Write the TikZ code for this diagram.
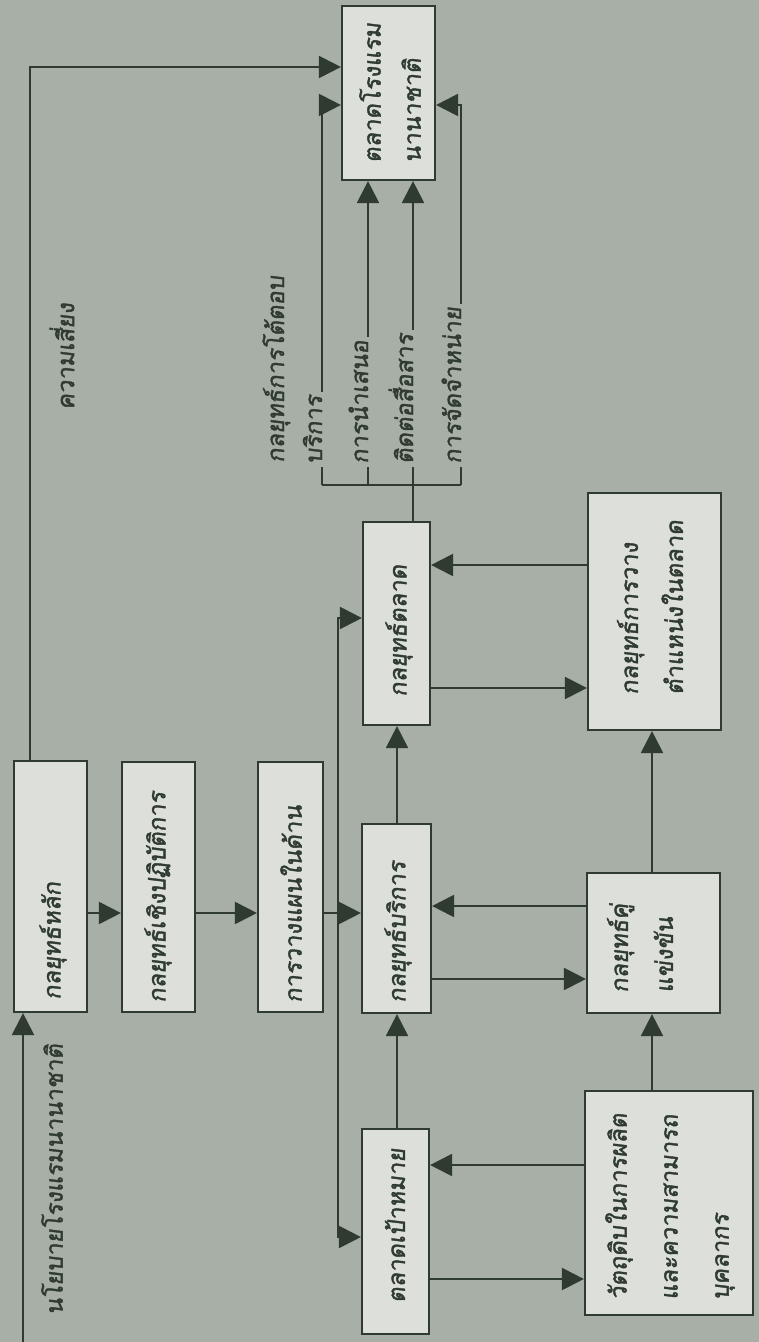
\documentclass[tikz,border=0pt]{standalone}
\usepackage{fontspec}
\newfontfamily\thaifont[Script=Thai, AutoFakeBold=1.6, AutoFakeSlant=0.12]{Loma}
\usetikzlibrary{arrows.meta,fit}
\definecolor{bg}{HTML}{A7AFA7}
\definecolor{boxfill}{HTML}{DCDFDA}
\definecolor{ink}{HTML}{2F3A30}
\begin{document}
\begin{tikzpicture}[x=0.5pt,y=-0.5pt,
  box/.style={draw=ink, line width=1.1pt, fill=boxfill, inner sep=0pt},
  lab/.style={rotate=90, inner sep=0pt, text=ink, align=left,
    font=\thaifont\bfseries\itshape\fontsize{11.9pt}{22.5pt}\selectfont},
  conn/.style={draw=ink, line width=1.1pt},
  arr/.style={conn, -{Triangle[length=11pt,width=11pt]}}]
\fill[bg] (0,0) rectangle (759,1342);
\useasboundingbox (0,0) rectangle (759,1342);

% boxes
\node[box, fit={(14,761)(87,1012)}] (hlak) {};
\node[box, fit={(122,762)(195,1012)}] (chueng) {};
\node[box, fit={(258,762)(323,1012)}] (plan) {};
\node[box, fit={(362,824)(431,1013)}] (service) {};
\node[box, fit={(363,522)(430,725)}] (market) {};
\node[box, fit={(362,1129)(429,1334)}] (target) {};
\node[box, fit={(588,493)(721,730)}] (position) {};
\node[box, fit={(587,873)(720,1013)}] (compet) {};
\node[box, fit={(585,1091)(753,1315)}] (resource) {};
\node[box, fit={(342,6)(435,180)}] (intl) {};

% box texts
\node[lab, anchor=west] (thlak) at (53,1000) {กลยุทธ์หลัก};
\node[lab, anchor=west] (tchueng) at (158,1003) {กลยุทธ์เชิงปฏิบัติการ};
\node[lab, anchor=west] (tplan) at (291,1003) {การวางแผนในด้าน};
\node[lab, anchor=west] (tservice) at (398,1003) {กลยุทธ์บริการ};
\node[lab, anchor=west] (tmarket) at (399,697) {กลยุทธ์ตลาด};
\node[lab, anchor=west] (ttarget) at (395,1303) {ตลาดเป้าหมาย};
\node[lab, anchor=west] (tposition) at (650,695) {กลยุทธ์การวาง\\ตำแหน่งในตลาด};
\node[lab, anchor=west] (tcompet) at (640,993) {กลยุทธ์คู่\\แข่งขัน};
\node[lab, anchor=west, font=\thaifont\bfseries\itshape\fontsize{11.9pt}{25.5pt}\selectfont] (tresource) at (670,1300) {วัตถุดิบในการผลิต\\และความสามารถ\\บุคลากร};
\node[lab, anchor=west, font=\thaifont\bfseries\itshape\fontsize{11.9pt}{20pt}\selectfont] (tintl) at (390,163) {ตลาดโรงแรม\\นานาชาติ};

% free labels
\node[lab, anchor=west] (policy) at (52,1315) {นโยบายโรงแรมนานาชาติ};
\node[lab, anchor=west] (risk) at (62,410) {ความเสี่ยง};
\node[lab, anchor=base west] (head) at (284,463) {กลยุทธ์การโต้ตอบ};

% coordinates
\coordinate (pstart) at (23,1342);
\coordinate (r67) at (30,67);
\coordinate (y913) at (0,913);
\coordinate (bxt) at (338,618);
\coordinate (bxb) at (338,1237);
\coordinate (c397) at (397,0);
\coordinate (c652) at (652,0);
\coordinate (y688) at (0,688);
\coordinate (y565) at (0,565);
\coordinate (y979) at (0,979);
\coordinate (y906) at (0,906);
\coordinate (y1165) at (0,1165);
\coordinate (y1279) at (0,1279);
\coordinate (y105) at (0,105);
\coordinate (bl) at (322,485);
\coordinate (b2) at (368,485);
\coordinate (b3) at (413,485);
\coordinate (br) at (461,485);

% response labels
\node[lab, anchor=base west, inner xsep=1.5pt] (l1) at (322,467) {บริการ};
\node[lab, anchor=base west, inner xsep=1.5pt] (l2) at (368,467) {การนำเสนอ};
\node[lab, anchor=base west, inner xsep=1.5pt] (l3) at (413,467) {ติดต่อสื่อสาร};
\node[lab, anchor=base west, inner xsep=1.5pt] (l4) at (461,467) {การจัดจำหน่าย};

% connectors
\draw[arr] (pstart) -- (pstart |- hlak.south);
\draw[arr] (r67 |- hlak.north) -- (r67) -- (intl.west |- r67);
\draw[arr] (hlak.east |- y913) -- (chueng.west |- y913);
\draw[arr] (chueng.east |- y913) -- (plan.west |- y913);
\draw[arr] (plan.east |- y913) -- (service.west |- y913);
\draw[arr] (bxt |- y913) -- (bxt) -- (market.west |- bxt);
\draw[arr] (bxb |- y913) -- (bxb) -- (target.west |- bxb);
\draw[arr] (c397 |- service.north) -- (c397 |- market.south);
\draw[arr] (c397 |- target.north) -- (c397 |- service.south);
\draw[arr] (market.east |- y688) -- (position.west |- y688);
\draw[arr] (position.west |- y565) -- (market.east |- y565);
\draw[arr] (c652 |- compet.north) -- (c652 |- position.south);
\draw[arr] (c652 |- resource.north) -- (c652 |- compet.south);
\draw[arr] (service.east |- y979) -- (compet.west |- y979);
\draw[arr] (compet.west |- y906) -- (service.east |- y906);
\draw[arr] (resource.west |- y1165) -- (target.east |- y1165);
\draw[arr] (target.east |- y1279) -- (resource.west |- y1279);

% response bracket
\draw[conn] (b3 |- market.north) -- (b3);
\draw[conn] (bl) -- (br);
\draw[conn] (bl) -- (l1.base west);
\draw[conn] (b2) -- (l2.base west);
\draw[conn] (b3) -- (l3.base west);
\draw[conn] (br) -- (l4.base west);
\draw[arr] (l1.base east) -- (l1.base east |- y105) -- (intl.west |- y105);
\draw[arr] (l2.base east) -- (l2.base east |- intl.south);
\draw[arr] (l3.base east) -- (l3.base east |- intl.south);
\draw[arr] (l4.base east) -- (l4.base east |- y105) -- (intl.east |- y105);
\end{tikzpicture}
\end{document}
